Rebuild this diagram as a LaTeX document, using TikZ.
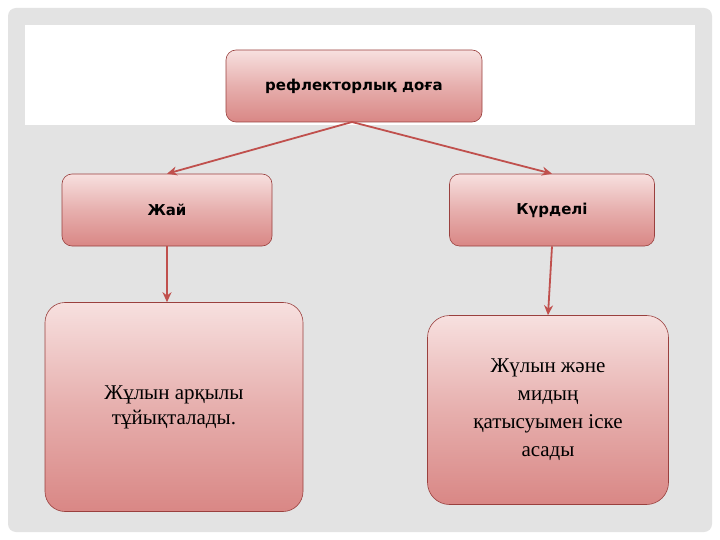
\documentclass[tikz,border=0pt]{standalone}
\usepackage{fontspec}
\setmainfont{Liberation Serif}
\newfontfamily\boxfont{DejaVu Sans}
\usetikzlibrary{arrows.meta}
\definecolor{edge}{HTML}{C0504D}
\definecolor{ptop}{HTML}{F7E0DF}
\definecolor{pbot}{HTML}{D98785}
\tikzset{
 pbox/.style={draw=edge!80!black, line width=0.6pt, rounded corners=10pt, top color=ptop, bottom color=pbot, middle color=pbot!55!ptop, shading angle=0, align=center, inner sep=0pt},
 hfont/.style={font=\boxfont\bfseries\fontsize{15}{18}\selectfont},
 conn/.style={draw=edge, line width=1.8pt, -{Stealth[length=10pt,width=9pt]}}
}
\begin{document}
\begin{tikzpicture}[x=1pt,y=-1pt]
\useasboundingbox (0,0) rectangle (720,540);
\fill[white] (0,0) rectangle (720,540);
\fill[gray!22, rounded corners=8pt] (8,8) rectangle (712,532);
\fill[white] (25,25) rectangle (695,125);
\node[pbox, minimum width=256pt, minimum height=72pt, hfont] (top) at (354,86) {рефлекторлық доға};
\node[pbox, minimum width=210pt, minimum height=72pt, hfont] (jai) at (167,210) {Жай};
\node[pbox, minimum width=205pt, minimum height=72pt, hfont] (kur) at (552,210) {Күрделі};
\node[pbox, rounded corners=20pt, minimum width=258pt, minimum height=209pt, font=\fontsize{21}{25}\selectfont] (bl) at (174,407) {Жұлын арқылы\\ тұйықталады.};
\node[pbox, rounded corners=22pt, minimum width=241pt, minimum height=189pt, font=\fontsize{21}{28}\selectfont] (br) at (548,410) {Жүлын және\\ мидың\\ қатысуымен іске\\ асады};
\coordinate (tb) at (352,122);
\draw[conn] (tb) -- (jai.north);
\draw[conn] (tb) -- (kur.north);
\draw[conn] (jai.south) -- (bl.north -| jai.south);
\draw[conn] (kur.south) -- (br.north);
\end{tikzpicture}
\end{document}
